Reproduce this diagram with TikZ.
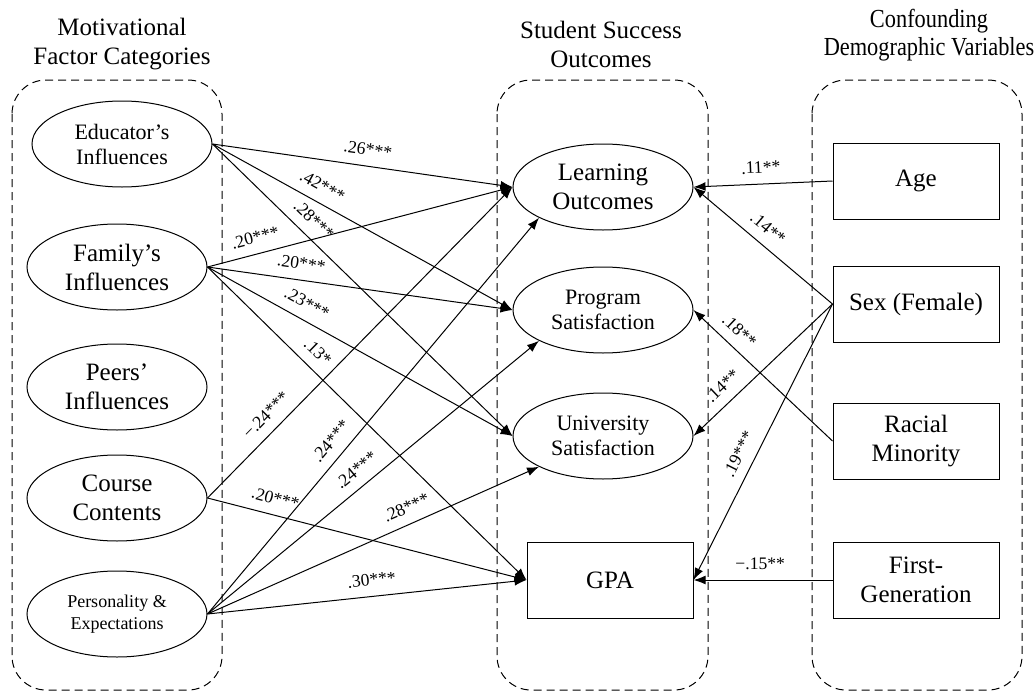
\documentclass[tikz,border=0pt]{standalone}
\usepackage{fontspec}
\setmainfont{Liberation Serif}
\newfontfamily\narrowserif[FakeStretch=0.86]{Liberation Serif}
\usetikzlibrary{shapes.geometric,arrows.meta}

\begin{document}
\begin{tikzpicture}[x=0.5pt,y=-0.5pt,
    bigtxt/.style={font=\fontsize{12.5}{14.5}\selectfont},
    midtxt/.style={font=\fontsize{11}{12.5}\selectfont},
    smalltxt/.style={font=\fontsize{9}{11}\selectfont},
    oval/.style={draw,ellipse,line width=0.5pt,inner sep=0pt,minimum width=90pt,minimum height=43pt,align=center},
    varbox/.style={draw,rectangle,line width=0.5pt,inner sep=0pt,minimum width=83pt,minimum height=38pt,align=center},
    panel/.style={draw,line width=0.5pt,dash pattern=on 4pt off 2.5pt,rounded corners=17pt},
    link/.style={-{Latex[length=6pt,width=4.4pt]},line width=0.5pt},
    coef/.style={font=\fontsize{8.8}{10}\selectfont,sloped,above=4pt,inner sep=1pt}]
    \useasboundingbox (0,0) rectangle (1035,691);

    % column headers
    \node[bigtxt,align=center] (hmot) at (122,44) {Motivational\\Factor Categories};
    \node[bigtxt,align=center] (hout) at (601,44) {Student Success\\Outcomes};
    \node[align=center,font=\narrowserif\fontsize{13}{14}\selectfont] (hdem) at (929,35) {Confounding\\Demographic Variables};

    % dashed groups
    \draw[panel] (12,80) rectangle (222,690);
    \draw[panel] (497,80) rectangle (708,690);
    \draw[panel] (812,80) rectangle (1022,690);

    % motivational factors
    \node[oval,midtxt] (edu) at (122,144) {Educator’s\\Influences};
    \node[oval,bigtxt] (fam) at (117,267) {Family’s\\Influences};
    \node[oval,bigtxt] (peer) at (117,387) {Peers’\\Influences};
    \node[oval,bigtxt] (cc) at (117,498) {Course\\Contents};
    \node[oval,smalltxt] (pe) at (117,614) {Personality \&\\Expectations};

    % outcomes
    \node[oval,bigtxt] (lo) at (603,187) {Learning\\Outcomes};
    \node[oval,midtxt] (ps) at (603,310) {Program\\Satisfaction};
    \node[oval,midtxt] (us) at (603,436) {University\\Satisfaction};
    \node[varbox,bigtxt] (gpa) at (610,580) {GPA};

    % demographics
    \node[varbox,bigtxt] (age) at (916,181) {Age};
    \node[varbox,bigtxt] (sex) at (916,304) {Sex (Female)};
    \node[varbox,bigtxt] (rac) at (916,441) {Racial\\Minority};
    \node[varbox,bigtxt] (fg) at (916,580) {First-\\Generation};

    % paths from motivational factors
    \draw[link] (edu.east) -- node[coef,pos=.51] {.26***} (lo.west);
    \draw[link] (edu.east) -- node[coef,pos=.34] {.42***} (ps.west);
    \draw[link] (edu.east) -- node[coef,pos=.30] {.28***} (us.west);
    \draw[link] (fam.east) -- node[coef,pos=.17] {.20***} (lo.west);
    \draw[link] (fam.east) -- node[coef,pos=.30] {.20***} (ps.west);
    \draw[link] (fam.east) -- node[coef,pos=.30] {.23***} (us.west);
    \draw[link] (fam.east) -- node[coef,pos=.31] {.13*} (gpa.west);
    \draw[link] (cc.east) -- node[coef,pos=.23] {−.24***} (lo.west);
    \draw[link] (cc.east) -- node[coef,pos=.20] {.20***} (gpa.west);
    \draw[link] (pe.east) -- node[coef,pos=.41] {.24***} (lo.south west);
    \draw[link] (pe.east) -- node[coef,pos=.48] {.24***} (ps.south west);
    \draw[link] (pe.east) -- node[coef,pos=.62] {.28***} (us.south west);
    \draw[link] (pe.east) -- node[coef,pos=.52] {.30***} (gpa.west);

    % paths from demographics
    \draw[link] (age.west) -- node[coef,pos=.51] {.11**} (lo.east);
    \draw[link] (sex.west) -- node[coef,pos=.54] {.14**} (lo.east);
    \draw[link] (rac.west) -- node[coef,pos=.75] {.18**} (ps.east);
    \draw[link] (sex.west) -- node[coef,pos=.71] {.14**} (us.east);
    \draw[link] (sex.west) -- node[coef,pos=.57] {.19***} (gpa.east);
    \draw[link] (fg.west) -- node[coef,pos=.52] {−.15**} (gpa.east);
\end{tikzpicture}
\end{document}
